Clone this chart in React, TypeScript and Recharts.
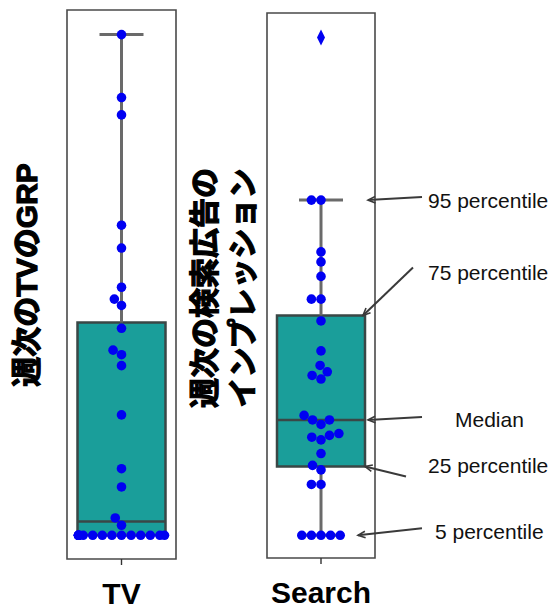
import React from "react";
import { ComposedChart, Scatter, XAxis, YAxis, ReferenceArea, ReferenceLine } from "recharts";

const CATEGORIES = ["TV", "Search"];

// 週次のTVのGRP (32 weeks)
const TV_GRP = [
  549, 480, 461, 340, 315, 272, 259, 252, 227, 203, 198, 186, 132, 73, 53, 19,
  11, 0, 0, 0, 0, 0, 0, 0, 0, 0, 0, 0, 0, 0, 0, 0,
];

// 週次の検索広告のインプレッション (32 weeks)
const SEARCH_IMP = [
  548, 369, 369, 312, 301, 285, 260, 260, 236, 203, 187, 180, 176, 172, 132, 127,
  127, 122, 112, 110, 108, 105, 90, 77, 72, 56, 56, 0, 0, 0, 0, 0,
];

const TV_TICKS = [0, 100, 200, 300, 400, 500];

const TV_TITLE = ["週次のTVのGRP"];
const SEARCH_TITLE = ["週次の検索広告の", "インプレッション"];

const NOTE_LABELS = ["95 percentile", "75 percentile", "Median", "25 percentile", "5 percentile"];
const NOTE_STATS = ["hi", "q3", "med", "q1", "lo"] as const;

// layout ------------------------------------------------------------
const W = 553;
const H = 609;
const FONT = "'Liberation Sans', Arial, 'Noto Sans CJK JP', sans-serif";
const DOT_R = 4.8;
const BOX_HALF = 44;
const SWARM_LIMIT = 43;
const Y_AXIS_W = 10;

const TV_FRAME = { left: 67, right: 176, top: 10, bottom: 559, domain: [-26, 576] };
const SEARCH_FRAME = { left: 267, right: 375, top: 13, bottom: 558, domain: [-25, 575] };

// arrow geometry (px): tip/tail x from box centre, tail lift, text offset from tail
const NOTE_LAYOUT = [
  { tip: 47, tail: 101, lift: -3, dx: 6, dy: 11 },
  { tip: 42, tail: 92, lift: -48, dx: 15, dy: 13 },
  { tip: 47, tail: 101, lift: -3, dx: 33, dy: 10 },
  { tip: 44, tail: 85, lift: 10, dx: 22, dy: -3 },
  { tip: 37, tail: 101, lift: -7, dx: 13, dy: 11 },
];

const COLORS = {
  box: "#1a9e9a",
  boxEdge: "#3a4746",
  whisker: "#6a6a6a",
  frame: "#4a4a4a",
  dot: "#0000f2",
  arrow: "#3a3a3a",
};

type Frame = typeof TV_FRAME;
type Stats = { q1: number; med: number; q3: number; lo: number; hi: number; fliers: number[] };

function quantile(sorted: number[], p: number) {
  const i = (sorted.length - 1) * p;
  const lo = Math.floor(i);
  const hi = Math.ceil(i);
  return sorted[lo] + (sorted[hi] - sorted[lo]) * (i - lo);
}

function boxStats(values: number[]): Stats {
  const s = [...values].sort((a, b) => a - b);
  const q1 = quantile(s, 0.25);
  const med = quantile(s, 0.5);
  const q3 = quantile(s, 0.75);
  const iqr = q3 - q1;
  const lo = Math.min(...s.filter((v) => v >= q1 - 1.5 * iqr));
  const hi = Math.max(...s.filter((v) => v <= q3 + 1.5 * iqr));
  return { q1, med, q3, lo, hi, fliers: s.filter((v) => v < lo || v > hi) };
}

// greedy beeswarm in pixel space, lowest values first, closest-to-centre slot wins
function beeswarm(values: number[], pxPerUnit: number, d: number, limit: number) {
  const order = values.map((_, i) => i).sort((a, b) => values[a] - values[b]);
  const placed: { x: number; py: number }[] = [];
  const out: { x: number; y: number }[] = new Array(values.length);
  for (const i of order) {
    const py = values[i] * pxPerUnit;
    const near = placed.filter((p) => Math.abs(p.py - py) < d);
    const cands = [0];
    near.forEach((p) => {
      const dx = Math.sqrt(d * d - (p.py - py) ** 2);
      cands.push(p.x - dx, p.x + dx);
    });
    cands.sort((a, b) => Math.abs(a) - Math.abs(b));
    const free = cands.find((c) =>
      near.every((p) => (p.x - c) ** 2 + (p.py - py) ** 2 >= d * d - 0.01)
    );
    const x = Math.max(-limit, Math.min(limit, free ?? 0));
    placed.push({ x, py });
    out[i] = { x, y: values[i] };
  }
  return out;
}

const Dot = (props: any) => <circle cx={props.cx} cy={props.cy} r={DOT_R} fill={COLORS.dot} />;

const Diamond = (props: any) => {
  const { cx, cy } = props;
  return (
    <polygon
      points={`${cx},${cy - 8} ${cx + 4},${cy} ${cx},${cy + 8} ${cx - 4},${cy}`}
      fill={COLORS.dot}
    />
  );
};

function Arrow(props: any) {
  const { x1, y1, x2, y2, layout, text } = props;
  const tx = x2;
  const ty = y2 + layout.lift;
  const ang = Math.atan2(y1 - ty, x1 - tx);
  const len = 8;
  const spread = 0.42;
  const a = { x: x1 - len * Math.cos(ang - spread), y: y1 - len * Math.sin(ang - spread) };
  const b = { x: x1 - len * Math.cos(ang + spread), y: y1 - len * Math.sin(ang + spread) };
  return (
    <g>
      <line x1={tx} y1={ty} x2={x1} y2={y1} stroke={COLORS.arrow} strokeWidth={2} />
      <polyline
        points={`${a.x},${a.y} ${x1},${y1} ${b.x},${b.y}`}
        fill="none"
        stroke={COLORS.arrow}
        strokeWidth={1.6}
      />
      <text x={tx + layout.dx} y={ty + layout.dy} fontFamily={FONT} fontSize={21} fill="#111">
        {text}
      </text>
    </g>
  );
}

// rotated axis title; a thin stroke thickens the CJK glyphs, which have no bold face here
function Title({ lines, x, y }: { lines: string[]; x: number; y: number }) {
  return (
    <text
      transform={`rotate(-90 ${x} ${y})`}
      x={x}
      y={y}
      textAnchor="middle"
      fontFamily={FONT}
      fontWeight="bold"
      fontSize={30}
      fill="#000"
      stroke="#000"
      strokeWidth={1.2}
    >
      {lines.map((l, i) => (
        <tspan key={l} x={x} dy={i === 0 ? 0 : 38}>
          {l}
        </tspan>
      ))}
    </text>
  );
}

type PanelProps = {
  name: string;
  values: number[];
  frame: Frame;
  yTicks?: number[];
  title: string[];
  titleAt: { x: number; y: number };
  notes?: boolean;
};

function BoxSwarmPanel({ name, values, frame, yTicks, title, titleAt, notes }: PanelProps) {
  const half = (frame.right - frame.left) / 2;
  const [y0, y1] = frame.domain;
  const pxPerUnit = (frame.bottom - frame.top) / (y1 - y0);
  const stats = boxStats(values);
  const inside = values.filter((v) => !stats.fliers.includes(v));
  const points = beeswarm(inside, pxPerUnit, DOT_R * 2, SWARM_LIMIT);
  const fliers = stats.fliers.map((v) => ({ x: 0, y: v }));
  const cap = BOX_HALF / 2;
  const xAxisH = H - frame.bottom;
  const yAxisW = yTicks ? Y_AXIS_W : 0;

  return (
    <div style={{ position: "absolute", left: 0, top: 0 }}>
      <ComposedChart
        width={W}
        height={H}
        margin={{ top: frame.top, bottom: 0, left: frame.left - yAxisW, right: W - frame.right }}
      >
        <XAxis
          type="number"
          dataKey="x"
          domain={[-half, half]}
          ticks={[0]}
          height={xAxisH}
          axisLine={false}
          tickSize={6}
          tickLine={{ stroke: "#333", strokeWidth: 1.4 }}
          allowDataOverflow
          tick={(p: any) => (
            <text
              x={p.x}
              y={frame.bottom + 45}
              textAnchor="middle"
              fontFamily={FONT}
              fontWeight="bold"
              fontSize={30}
              fill="#000"
            >
              {name}
            </text>
          )}
        />
        <YAxis
          type="number"
          dataKey="y"
          domain={frame.domain}
          width={yAxisW}
          ticks={yTicks}
          tick={false}
          tickSize={4}
          tickLine={{ stroke: "#333", strokeWidth: 1.4 }}
          axisLine={false}
          allowDataOverflow
          hide={!yTicks}
        />
        <ReferenceArea
          x1={-half}
          x2={half}
          y1={y0}
          y2={y1}
          fill="none"
          stroke={COLORS.frame}
          strokeWidth={1.6}
          fillOpacity={0}
        />
        <ReferenceLine
          segment={[{ x: 0, y: stats.q3 }, { x: 0, y: stats.hi }]}
          stroke={COLORS.whisker}
          strokeWidth={3}
        />
        <ReferenceLine
          segment={[{ x: 0, y: stats.q1 }, { x: 0, y: stats.lo }]}
          stroke={COLORS.whisker}
          strokeWidth={3}
        />
        <ReferenceLine
          segment={[{ x: -cap, y: stats.hi }, { x: cap, y: stats.hi }]}
          stroke={COLORS.whisker}
          strokeWidth={3}
        />
        <ReferenceLine
          segment={[{ x: -cap, y: stats.lo }, { x: cap, y: stats.lo }]}
          stroke={COLORS.whisker}
          strokeWidth={3}
        />
        <ReferenceArea
          x1={-BOX_HALF}
          x2={BOX_HALF}
          y1={stats.q1}
          y2={stats.q3}
          fill={COLORS.box}
          fillOpacity={1}
          stroke={COLORS.boxEdge}
          strokeWidth={2.5}
        />
        <ReferenceLine
          segment={[{ x: -BOX_HALF, y: stats.med }, { x: BOX_HALF, y: stats.med }]}
          stroke={COLORS.boxEdge}
          strokeWidth={2.5}
        />
        {fliers.length > 0 && (
          <Scatter data={fliers} shape={Diamond} isAnimationActive={false} />
        )}
        <Scatter data={points} shape={Dot} isAnimationActive={false} />
        {notes &&
          NOTE_LABELS.map((text, i) => {
            const layout = NOTE_LAYOUT[i];
            const v = stats[NOTE_STATS[i]];
            return (
              <ReferenceLine
                key={text}
                segment={[{ x: layout.tip, y: v }, { x: layout.tail, y: v }]}
                ifOverflow="visible"
                shape={(p: any) => <Arrow {...p} layout={layout} text={text} />}
              />
            );
          })}
        <Title lines={title} x={titleAt.x} y={titleAt.y} />
      </ComposedChart>
    </div>
  );
}

export default function App() {
  return (
    <div
      style={{ position: "absolute", left: 0, top: 0, width: W, height: H, background: "#fff" }}
    >
      <BoxSwarmPanel
        name={CATEGORIES[0]}
        values={TV_GRP}
        frame={TV_FRAME}
        yTicks={TV_TICKS}
        title={TV_TITLE}
        titleAt={{ x: 37, y: 275 }}
      />
      <BoxSwarmPanel
        name={CATEGORIES[1]}
        values={SEARCH_IMP}
        frame={SEARCH_FRAME}
        title={SEARCH_TITLE}
        titleAt={{ x: 215, y: 288 }}
        notes
      />
    </div>
  );
}
